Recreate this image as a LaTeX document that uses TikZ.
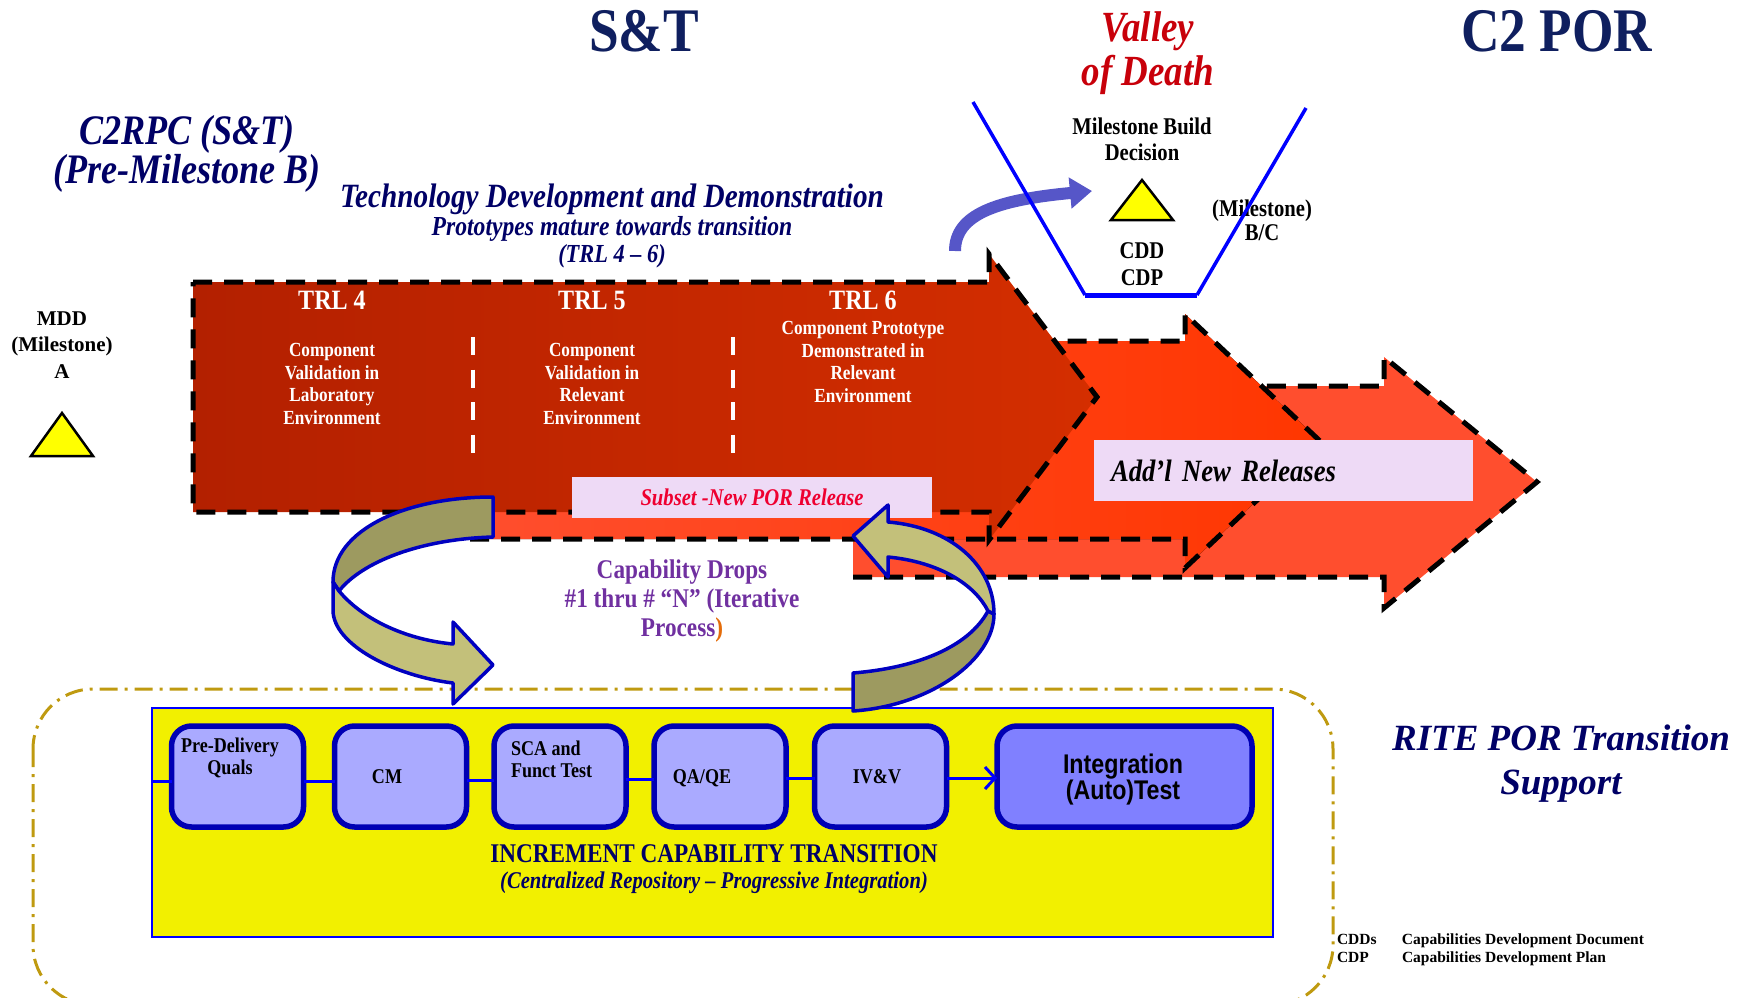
\documentclass[tikz,border=0pt]{standalone}
\usepackage{fontspec}
\setmainfont{Liberation Serif}
\newfontfamily\cndserif{Liberation Serif}[FakeStretch=0.86]
\newfontfamily\cndsans{Liberation Sans}[FakeStretch=0.86]
\usepackage{tikz}
\usetikzlibrary{arrows.meta}
\newcommand{\fsz}[2]{\fontsize{#1}{#2}\selectfont}

\definecolor{stnavy}{HTML}{0F1F5F}
\definecolor{dknavy}{HTML}{000066}
\definecolor{vodred}{HTML}{C8000A}
\definecolor{trlL}{HTML}{B32000}
\definecolor{trlR}{HTML}{D42E00}
\definecolor{relmid}{HTML}{FF3600}
\definecolor{relbig}{HTML}{FF4E2E}
\definecolor{lav}{HTML}{EEDAF6}
\definecolor{subred}{HTML}{EE0030}
\definecolor{dropvio}{HTML}{7030A0}
\definecolor{droporg}{HTML}{E46C0A}
\definecolor{oliveL}{HTML}{C3C07A}
\definecolor{oliveD}{HTML}{9D9A60}
\definecolor{rimblue}{HTML}{0000C0}
\definecolor{goldline}{HTML}{BF9A10}
\definecolor{icyellow}{HTML}{F2F000}
\definecolor{stepfill}{HTML}{AAAAFF}
\definecolor{integfill}{HTML}{8080FF}
\definecolor{stepline}{HTML}{0000B4}
\definecolor{vblue}{HTML}{0000FF}
\definecolor{curlblue}{HTML}{5656C8}
\definecolor{msyellow}{HTML}{FFFF00}

\begin{document}
\begin{tikzpicture}[x=1pt,y=-1pt,
		every node/.style={inner sep=0pt,outer sep=0pt},
		reldash/.style={black,line width=5pt,dash pattern=on 19pt off 12pt},
		trlsep/.style={white,line width=4pt,dash pattern=on 18pt off 14.6pt},
		trlhead/.style={text=white,font=\cndserif\bfseries\fsz{28}{28}},
		trldesc/.style={text=white,font=\cndserif\bfseries\fsz{20}{22.6},align=center},
		curl/.style={draw=rimblue,line width=3.5pt,line join=round},
		valley/.style={vblue,line width=3.5pt},
		milestone/.style={draw=black,line width=2.5pt,fill=msyellow},
		stepbox/.style={draw=stepline,line width=5.5pt,fill=stepfill,rounded corners=20pt,
			minimum width=132pt,minimum height=101pt},
		steptxt/.style={font=\cndserif\bfseries\fsz{21}{22},align=center},
		stepconn/.style={vblue,line width=3pt},
		%nodes=draw
		]
	\useasboundingbox (0,0) rectangle (1742,998);
	
	% RITE support frame
	\draw[goldline,line width=3pt,dash pattern=on 18pt off 7pt on 3pt off 7pt,rounded corners=60pt]
		(33,689) rectangle (1333,1005);
	
	% release arrows
	\fill[relbig] (853,386) -- (1384,386) -- (1384,357) -- (1537,482) -- (1384,608) -- (1384,577) -- (853,577) -- cycle;
	\draw[reldash] (853,577) -- (1384,577) -- (1384,608) -- (1537,482) -- (1384,357) -- (1384,386) -- (853,386);
	\fill[left color=relbig,right color=relmid] (470,341) -- (1185,341) -- (1185,314) -- (1320,441) -- (1185,568) -- (1185,539) -- (470,539) -- cycle;
	\draw[reldash] (470,539) -- (1185,539) -- (1185,568) -- (1320,441) -- (1185,314) -- (1185,341) -- (470,341);
	\draw[reldash,left color=trlL,right color=trlR] (193,282) -- (989,282) -- (989,254) -- (1097,397) -- (989,540) -- (989,512) -- (193,512) -- cycle;
	
	\draw[trlsep] (473,337) -- (473,453);
	\draw[trlsep] (733,337) -- (733,453);
	
	\node[trlhead] (trl4) at (332,300) {TRL 4};
	\node[trlhead] (trl5) at (592,300) {TRL 5};
	\node[trlhead] (trl6) at (863,300) {TRL 6};
	\node[trldesc] (trl4d) at (332,384) {Component\\Validation in\\Laboratory\\Environment};
	\node[trldesc] (trl5d) at (592,384) {Component\\Validation in\\Relevant\\Environment};
	\node[trldesc] (trl6d) at (863,362) {Component Prototype\\Demonstrated in\\Relevant\\Environment};
	
	\node[fill=lav,minimum width=360pt,minimum height=41pt,text=subred,
		font=\cndserif\bfseries\itshape\fsz{24}{24}] (subset) at (752,497.5) {Subset -New POR Release};
	\node[fill=lav,minimum height=61pt,text width=345pt,inner xsep=17pt,align=left,
		font=\cndserif\bfseries\itshape\fsz{31}{31}] (addl) at (1283.5,470.5) {Add’l New Releases};
	
	% increment capability transition
	\node[draw=vblue,line width=2.5pt,fill=icyellow,minimum width=1121pt,minimum height=229pt] (icbox) at (712.5,822.5) {};
	\node[stepbox] (pdq) at (237.5,776.5) {};
	\node[stepbox] (cm) at (400.5,776.5) {};
	\node[stepbox] (sca) at (560,776.5) {};
	\node[stepbox] (qa) at (720,776.5) {};
	\node[stepbox] (ivv) at (880.5,776.5) {};
	\node[stepbox,fill=integfill,minimum width=255pt] (integ) at (1124.5,776.5) {};
	
	\draw[stepconn] (icbox.west |- 0,781) -- (pdq.west |- 0,781);
	\draw[stepconn] (pdq.east |- 0,781) -- (cm.west |- 0,781);
	\draw[stepconn] (cm.east |- 0,780) -- (sca.west |- 0,780);
	\draw[stepconn] (sca.east |- 0,779) -- (qa.west |- 0,779);
	\draw[stepconn] (qa.east |- 0,778) -- (ivv.west |- 0,778);
	\draw[stepconn,-{Straight Barb[length=10pt,width=22pt]}] (ivv.east |- 0,778) -- (integ.west |- 0,778);
	
	\node[steptxt] (pdqt) at (230,758) {Pre-Delivery\\Quals};
	\node[steptxt] (cmt) at (387,777) {CM};
	\node[steptxt,align=left,anchor=west] (scat) at (511,759) {SCA and\\Funct Test};
	\node[steptxt] (qat) at (702,778) {QA/QE};
	\node[steptxt] (ivvt) at (877,777) {IV\&V};
	\node[font=\cndsans\bfseries\fsz{27}{26},align=center] (integt) at (1123,780) {Integration\\(Auto)Test};
	
	\node[text=dknavy,font=\cndserif\bfseries\fsz{27}{27}] (icttl) at (714,854) {INCREMENT CAPABILITY TRANSITION};
	\node[text=dknavy,font=\cndserif\bfseries\itshape\fsz{24}{24}] (icsub) at (714,883) {(Centralized Repository – Progressive Integration)};
	
	% capability drops
	\filldraw[curl,fill=oliveD] (493,497) .. controls (405,497) and (333,530) .. (333,582) -- (339,591)
		.. controls (362,562) and (420,539) .. (493,537) -- cycle;
	\filldraw[curl,fill=oliveL] (339,591) .. controls (365,622) and (410,640) .. (453,644) -- (453,622) -- (493,665)
		-- (453,704) -- (453,683) .. controls (395,676) and (333,645) .. (333,610) -- (333,582) -- cycle;
	\filldraw[curl,fill=oliveD] (853,673) -- (853,711) .. controls (930,706) and (994,660) .. (994,614) -- (988,611)
		.. controls (968,648) and (915,668) .. (853,673) -- cycle;
	\filldraw[curl,fill=oliveL] (988,611) .. controls (975,585) and (940,562) .. (888,557) -- (888,577) -- (853,536)
		-- (888,505) -- (888,522) .. controls (950,527) and (994,565) .. (994,614) -- cycle;
	\node[text=dropvio,font=\cndserif\bfseries\fsz{27}{29},align=center] (drops) at (682,601)
		{Capability Drops\\\#1 thru \# “N” (Iterative\\Process{\color{droporg})}};
	
	% titles
	\node[text=stnavy,font=\cndserif\bfseries\fsz{62}{62}] (st) at (644,31) {S\&T};
	\node[text=stnavy,font=\cndserif\bfseries\fsz{62}{62}] (c2por) at (1557,31) {C2 POR};
	\node[text=vodred,font=\cndserif\bfseries\itshape\fsz{43}{44},align=center] (vod) at (1148,53) {Valley\\of Death};
	\node[text=dknavy,font=\cndserif\bfseries\itshape\fsz{42}{36},align=center] (c2rpc) at (187,154) {C2RPC (S\&T)\\(Pre-Milestone B)};
	\node[text=dknavy,font=\cndserif\bfseries\itshape\fsz{34}{34}] (tdd) at (612,199) {Technology Development and Demonstration};
	\node[text=dknavy,font=\cndserif\bfseries\itshape\fsz{27.5}{27.5}] (proto) at (612,229) {Prototypes mature towards transition};
	\node[text=dknavy,font=\cndserif\bfseries\itshape\fsz{26}{26}] (trlrng) at (612,256) {(TRL 4 – 6)};
	\node[text=dknavy,font=\bfseries\itshape\fsz{37}{44},align=center] (rite) at (1561,764) {RITE POR Transition\\Support};
	
	% milestones
	\node[font=\bfseries\fsz{21}{26.5},align=center] (mdd) at (62,345) {MDD\\(Milestone)\\A};
	\draw[milestone] (31,456) -- (62,413) -- (93,456) -- cycle;
	\node[font=\cndserif\bfseries\fsz{24}{26},align=center] (msbuild) at (1142,139) {Milestone Build\\Decision};
	\draw[milestone] (1111,220) -- (1142,180) -- (1173,220) -- cycle;
	\node[font=\cndserif\bfseries\fsz{24}{27},align=center] (cdd) at (1142,264) {CDD\\CDP};
	\node[font=\cndserif\bfseries\fsz{24}{24},align=center] (msbc) at (1262,220) {(Milestone)\\B/C};
	
	\draw[curlblue,line width=12pt,-{Triangle[length=22pt,width=30pt]}] (955,251) .. controls (955,215) and (995,200) .. (1092,191);
	\draw[valley] (973,102) -- (1085,295);
	\draw[valley,line width=5pt] (1085,295) -- (1197,295);
	\draw[valley] (1197,295) -- (1306,108);
	
	\node[font=\bfseries\fsz{15.5}{18.5},align=left,anchor=west] (legend) at (1337,950)
		{\makebox[65pt][l]{CDDs}Capabilities Development Document\\\makebox[65pt][l]{CDP}Capabilities Development Plan};
\end{tikzpicture}
\end{document}
